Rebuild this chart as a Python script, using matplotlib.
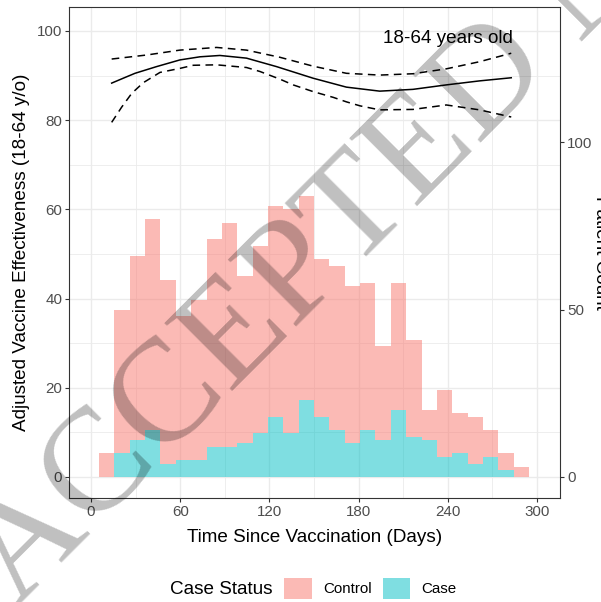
import numpy as np
import matplotlib.pyplot as plt
from matplotlib.patches import Patch

plt.rcParams['font.family'] = ['Liberation Sans', 'DejaVu Sans']

# histogram of patient counts (bins ~10.3 days wide, first bin starts ~day 5.4)
bin_start = 5.4
bin_width = 10.33
case_counts = [0, 7, 11, 14, 4, 5, 5, 9, 9, 10, 13, 18, 13, 23, 18, 14, 10, 14, 11, 20, 12, 11, 6, 7, 4, 6, 2, 0]
total_counts = [7, 50, 66, 77, 59, 48, 53, 71, 76, 60, 69, 81, 80, 84, 65, 63, 57, 58, 39, 58, 41, 20, 26, 19, 18, 14, 7, 3]
control_counts = [t - c for t, c in zip(total_counts, case_counts)]

# adjusted VE curve and confidence band
ve_days = [13.9, 21.7, 29.6, 44.1, 59.8, 73.3, 86.7, 104.6, 124.8, 149.4, 171.8, 194.2, 216.6, 239, 261.4, 282.7]
ve = [88.3, 89.4, 90.5, 92.0, 93.5, 94.2, 94.5, 93.9, 92.0, 89.4, 87.4, 86.5, 86.9, 87.9, 88.8, 89.5]
upper_days = [13.9, 37.4, 59.8, 84.5, 104.6, 127, 149.4, 171.8, 194.2, 216.6, 239, 261.4, 282.7]
upper = [93.7, 94.6, 95.7, 96.3, 95.7, 94.1, 92.1, 90.5, 90.1, 90.4, 91.5, 93.1, 95.0]
lower_days = [13.9, 20.6, 27.4, 35.2, 46.4, 59.8, 68.8, 84.5, 104.6, 113.7, 127, 136, 149.4, 163,
              171.8, 181, 194.2, 216.6, 239, 261.4, 282.7]
lower = [79.5, 82.9, 86.0, 88.4, 90.7, 91.6, 92.3, 92.4, 91.8, 90.9, 89.2, 87.9, 86.4, 85.1,
         84.1, 83.2, 82.3, 82.4, 83.4, 82.3, 80.7]

count_scale = 0.75  # secondary axis: VE = count * 0.75
pink = '#F8766D'
cyan = '#00BFC4'
grey_txt = '#4D4D4D'

fig = plt.figure(figsize=(6.01, 6.02), dpi=100)
ax = fig.add_axes([69 / 601, (602 - 498.3) / 602, (560 - 69) / 601, (498.3 - 7.3) / 602])
ax.set_xlim(-14.8, 315.5)
ax.set_ylim(-4.8, 105.3)

ax.set_xticks([0, 60, 120, 180, 240, 300])
ax.set_xticks([30, 90, 150, 210, 270], minor=True)
ax.set_yticks([0, 20, 40, 60, 80, 100])
ax.set_yticks([10, 30, 50, 70, 90], minor=True)
ax.grid(which='major', color='#EBEBEB', lw=1.0)
ax.grid(which='minor', color='#EBEBEB', lw=0.6)
ax.set_axisbelow(True)
ax.tick_params(which='major', length=2.75, width=0.8, color='#333333',
               labelsize=10.9, labelcolor=grey_txt, pad=2.2)
ax.tick_params(which='minor', length=0)
for s in ax.spines.values():
    s.set_color('#333333')
    s.set_linewidth(0.8)

ax.plot(ve_days, ve, color='black', lw=1.1)
ax.plot(upper_days, upper, color='black', lw=1.1, ls=(0, (5, 3.5)))
ax.plot(lower_days, lower, color='black', lw=1.1, ls=(0, (5, 3.5)))
ax.text(240, 98.4, '18-64 years old', fontsize=13.6, ha='center', va='center')

ax.set_xlabel('Time Since Vaccination (Days)', fontsize=13.6, labelpad=7)
ax.set_ylabel('Adjusted Vaccine Effectiveness (18-64 y/o)', fontsize=13.6, labelpad=5)

ax2 = ax.twinx()
ax2.set_ylim(-4.8 / count_scale, 105.3 / count_scale)
ax2.set_yticks([0, 50, 100])
ax2.tick_params(length=2.75, width=0.8, color='#333333',
                labelsize=10.9, labelcolor=grey_txt, pad=2.2)
for s in ax2.spines.values():
    s.set_visible(False)

lefts = bin_start + bin_width * np.arange(len(case_counts))
ax2.bar(lefts, case_counts, width=bin_width, align='edge', color=cyan, alpha=0.5, lw=0)
ax2.bar(lefts, control_counts, width=bin_width, bottom=case_counts, align='edge',
        color=pink, alpha=0.5, lw=0)

# right axis title is cut off by the figure edge in the original
fig.text(592.5 / 601, 1 - 252.8 / 602, 'Patient Count', rotation=-90, fontsize=13.6,
         ha='left', va='center')

# legend at the bottom
fig.text(273 / 601, 1 - 590 / 602, 'Case Status', fontsize=13.6, ha='right', va='center')
handles = [Patch(facecolor=pink, alpha=0.5, lw=0), Patch(facecolor=cyan, alpha=0.5, lw=0)]
fig.legend(handles, ['Control', 'Case'], ncol=2, frameon=False, fontsize=10.9,
           loc='center left', bbox_to_anchor=(284.3 / 601, 1 - 588.5 / 602),
           handlelength=1.81, handleheight=1.81, handletextpad=0.73,
           columnspacing=0.77, borderpad=0, borderaxespad=0)

# watermark
fig.text(16 / 601, (602 - 607) / 602, 'ACCEPTED MANUSCRIPT', rotation=45,
         rotation_mode='anchor', ha='left', va='baseline', fontsize=105.8,
         family='Liberation Serif', color='black', alpha=0.25, zorder=10)

fig.savefig('out.png', dpi=100)
